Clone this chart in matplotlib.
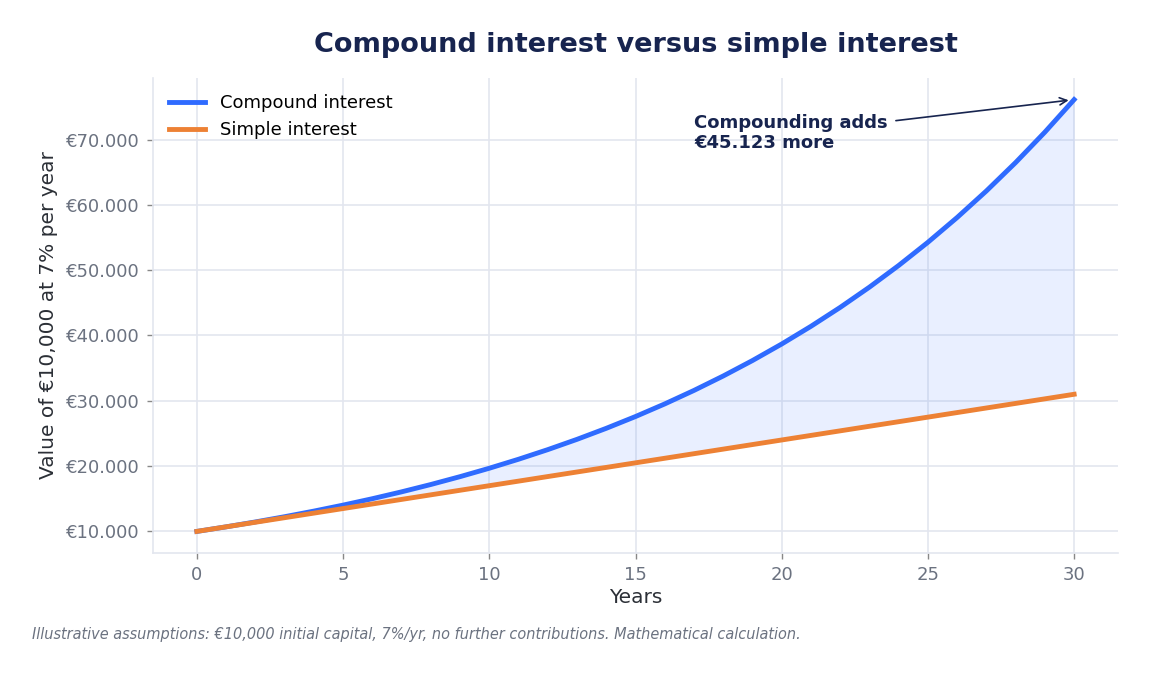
import matplotlib
matplotlib.use("Agg")
import matplotlib.pyplot as plt
from matplotlib.ticker import FuncFormatter

# values of 10,000 EUR at 7% per year, year 0..30
years = list(range(0, 31))
compound = [10000, 10700, 11449, 12250, 13108, 14026, 15007, 16058, 17182, 18385,
            19672, 21049, 22522, 24098, 25785, 27590, 29522, 31588, 33799, 36165,
            38697, 41406, 44304, 47405, 50724, 54274, 58074, 62139, 66488, 71143,
            76123]
simple = [10000, 10700, 11400, 12100, 12800, 13500, 14200, 14900, 15600, 16300,
          17000, 17700, 18400, 19100, 19800, 20500, 21200, 21900, 22600, 23300,
          24000, 24700, 25400, 26100, 26800, 27500, 28200, 28900, 29600, 30300,
          31000]
extra_label = "€45.123"

navy = "#17244f"
gray_txt = "#6b7280"
grid_c = "#e3e6ef"

fig = plt.figure(figsize=(11.5, 6.75), dpi=100)
ax = fig.add_axes([153/1150, 1-553/675, (1118-153)/1150, (553-78)/675])

ax.fill_between(years, simple, compound, color="#2f6bff", alpha=0.1, linewidth=0)
ax.plot(years, compound, color="#2f6bff", lw=3.5, label="Compound interest", zorder=3)
ax.plot(years, simple, color="#ed8134", lw=3.5, label="Simple interest", zorder=3)

ax.grid(True, color=grid_c, lw=1.2)
ax.set_axisbelow(True)
for s in ["top", "right"]:
    ax.spines[s].set_visible(False)
for s in ["left", "bottom"]:
    ax.spines[s].set_color(grid_c)
    ax.spines[s].set_linewidth(1.2)
ax.tick_params(colors=gray_txt, labelsize=13, length=4, width=1, pad=5.5)
ax.tick_params(axis="both", color="#888888")
ax.yaxis.set_major_formatter(FuncFormatter(lambda v, p: "€" + f"{v:,.0f}".replace(",", ".")))

ax.set_xlabel("Years", fontsize=14.5, color="#2b2f36", labelpad=3)
ax.set_ylabel("Value of €10,000 at 7% per year", fontsize=14.5, color="#2b2f36", labelpad=6)
ax.set_title("Compound interest versus simple interest", fontsize=19.5, fontweight="bold",
             color=navy, pad=19)

leg = ax.legend(loc="upper left", fontsize=13, frameon=False, handlelength=2.0)

ax.annotate(f"Compounding adds\n{extra_label} more",
            xy=(years[-1], compound[-1]), xytext=(17, 71000),
            fontsize=13, fontweight="bold", color=navy, va="center", ha="left",
            arrowprops=dict(arrowstyle="->", color=navy, lw=1.2, shrinkA=4, shrinkB=4))

fig.text(32/1150, 1-635/675, "Illustrative assumptions: €10,000 initial capital, 7%/yr, "
         "no further contributions. Mathematical calculation.",
         fontsize=10.45, style="italic", color=gray_txt, va="center")

fig.savefig("out.png", dpi=100)
